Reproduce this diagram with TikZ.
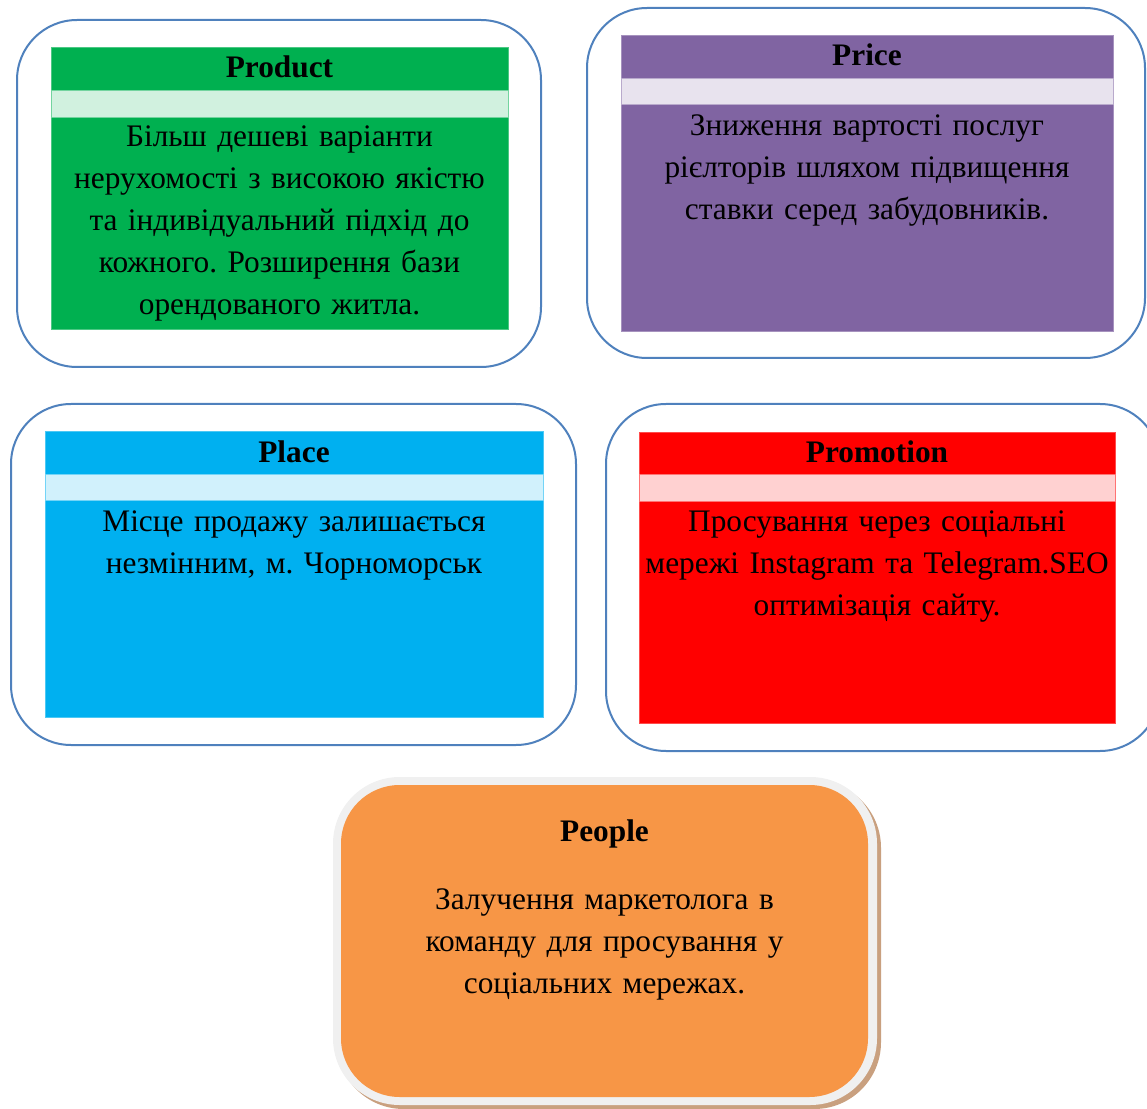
\documentclass[tikz,border=0pt]{standalone}
\usepackage{fontspec}
\setmainfont{Liberation Serif}
\frenchspacing
\definecolor{frameblue}{HTML}{4F81BD}
\definecolor{prodgreen}{HTML}{00B050}
\definecolor{pricepurple}{HTML}{8064A2}
\definecolor{placeblue}{HTML}{00B0F0}
\definecolor{promored}{HTML}{FF0000}
\definecolor{peopleorange}{HTML}{F79646}
\definecolor{peopleshadow}{HTML}{C9A07F}
\definecolor{peopleedge}{HTML}{F0F0F0}
\tikzset{
  frame/.style={draw=frameblue, line width=1.5pt, fill=white, rounded corners=45pt},
  panel/.style={fill=#1, draw=#1!70!white, line width=0.5pt},
  band/.style={fill=#1!18!white, draw=#1!55!white, line width=0.5pt},
  title/.style={anchor=base, inner sep=0pt, font=\fontsize{23.5}{31.5}\selectfont\bfseries},
  body/.style={anchor=base, inner sep=0pt, align=center, text width=380pt, font=\fontsize{23.5}{31.5}\selectfont},
}
\begin{document}
\begin{tikzpicture}[x=0.75pt, y=-0.75pt]
\useasboundingbox (0,0) rectangle (1147,1109);
% Product
\draw[frame] (17,20) rectangle (541,367);
\draw[panel=prodgreen] (51,47) rectangle (508,329);
\draw[band=prodgreen] (51,90) rectangle (508,117);
\node[title] (product) at (279.5,78) {Product};
\node[body] (producttext) at (279.5,147) {Більш дешеві варіанти\\нерухомості з високою якістю\\та індивідуальний підхід до\\кожного. Розширення бази\\орендованого житла.};
% Price
\draw[frame] (587,8) rectangle (1145,358);
\draw[panel=pricepurple] (621,35) rectangle (1113,331);
\draw[band=pricepurple] (621,78) rectangle (1113,104);
\node[title] (price) at (867,66) {Price};
\node[body] (pricetext) at (867,136) {Зниження вартості послуг\\рієлторів шляхом підвищення\\ставки серед забудовників.};
% Place
\draw[frame] (11,404) rectangle (576,745);
\draw[panel=placeblue] (45,431) rectangle (543,717);
\draw[band=placeblue] (45,474) rectangle (543,500);
\node[title] (place) at (294,463) {Place};
\node[body] (placetext) at (294,532) {Місце продажу залишається\\незмінним, м. Чорноморськ};
% Promotion
\draw[frame] (606,404) rectangle (1160,751);
\draw[panel=promored] (639,432) rectangle (1115,723);
\draw[band=promored] (639,474) rectangle (1115,501);
\node[title] (promotion) at (877,463) {Promotion};
\node[body] (promotiontext) at (877,532) {Просування через соціальні\\мережі Instagram та Telegram.SEO\\оптимізація сайту.};
% People
\fill[peopleshadow, rounded corners=50pt] (337,781) rectangle (881,1109);
\fill[peopleedge, rounded corners=50pt] (333,777) rectangle (877,1105);
\fill[peopleorange, rounded corners=44pt] (341,785) rectangle (868,1097);
\node[title] (people) at (604.5,841) {People};
\node[body] (peopletext) at (604.5,909) {Залучення маркетолога в\\команду для просування у\\соціальних мережах.};
\end{tikzpicture}
\end{document}
